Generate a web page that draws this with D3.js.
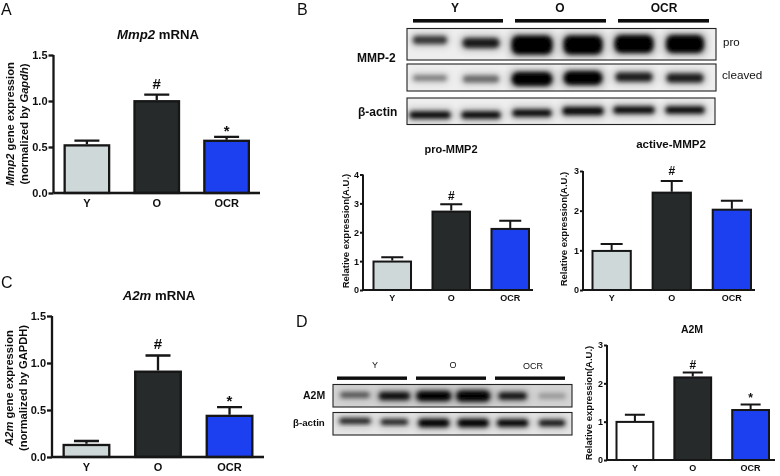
<!DOCTYPE html>
<html><head><meta charset="utf-8">
<script src="https://cdnjs.cloudflare.com/ajax/libs/d3/7.8.5/d3.min.js"></script>
<style>html,body{margin:0;padding:0;background:#fff}svg{display:block}
text{font-family:"Liberation Sans",Arial,sans-serif;fill:#111}</style></head><body>
<svg id="c" width="780" height="476"></svg>
<script>
const groups = ["Y","O","OCR"];
const colors = ["#cfd8d8","#25292b","#1f3ff0"];
const colorsD = ["#ffffff","#25292b","#1f3ff0"];

const mmp2Mean = [0.53,1.01,0.58], mmp2Upper = [0.57,1.07,0.61];
const proMean = [1.02,2.75,2.15], proUpper = [1.13,2.97,2.4];
const activeMean = [1.01,2.48,2.05], activeUpper = [1.16,2.75,2.25];
const a2mMean = [0.14,0.92,0.45], a2mUpper = [0.17,1.08,0.53];
const a2mBlotMean = [1.02,2.18,1.33], a2mBlotUpper = [1.18,2.28,1.45];

const ticks15 = [0,0.5,1,1.5], ticks4 = [0,1,2,3,4], ticks3 = [0,1,2,3];

// Western blots: one value per lane
const proBand   = {op:[.72,.85,1,1,1,1], w:[34,37,41,39,39,38], h:[8,10,19,19,18,18], y:[40,43,45,45,44,44]};
const cleavedBand={op:[.4,.5,1,1,.85,.85], w:[34,36,41,39,37,37], h:[6,7,14,14,9,9], y:[78,79,79,78,77,78]};
const actinBand = {op:[.95,.95,.95,.95,.95,.95], w:[41,39,39,41,41,39], h:[7,7,7,8,7,7], y:[115,115,113,111,110,110]};
const a2mBand   = {op:[.6,.9,.98,.98,.9,.25], w:[29,31,35,34,28,27], h:[5,8,10,11,7,5], y:[395,396,396,396,396,396]};
const actin2Band= {op:[.9,.9,.98,.98,.98,.9], w:[31,27,31,31,31,26], h:[5,5,8,8,7,6], y:[421,422,423,423,423,423]};

const svg = d3.select("#c");
const defs = svg.append("defs");
defs.append("filter").attr("id","soft").attr("x","-5%").attr("y","-5%").attr("width","110%").attr("height","110%")
  .append("feGaussianBlur").attr("stdDeviation",0.35);
defs.append("filter").attr("id","band").attr("x","-30%").attr("y","-60%").attr("width","160%").attr("height","220%")
  .append("feGaussianBlur").attr("stdDeviation",1.9);
defs.append("filter").attr("id","halo").attr("x","-30%").attr("y","-100%").attr("width","160%").attr("height","300%")
  .append("feGaussianBlur").attr("stdDeviation",3.5);
const root = svg.append("g").attr("filter","url(#soft)");

function barPanel(o){
  const g = root.append("g");
  const x = d3.scaleBand().domain(groups).range([o.bar0,o.bar1]).paddingInner(o.gap).paddingOuter(0);
  const y = d3.scaleLinear().domain(o.domain).range([o.y0,o.yTop]);
  const sw = o.sw;
  g.selectAll(".e").data(groups).join("path")
    .attr("d",(d,i)=>{const c=x(d)+x.bandwidth()/2,u=y(o.upper[i]),m=y(o.mean[i]);
      return `M${c},${m}V${u}M${c-o.cap},${u}H${c+o.cap}`;})
    .attr("fill","none").attr("stroke","#141414").attr("stroke-width",sw);
  g.selectAll(".b").data(groups).join("rect")
    .attr("x",d=>x(d)+sw/2).attr("width",x.bandwidth()-sw)
    .attr("y",(d,i)=>y(o.mean[i])+sw/2).attr("height",(d,i)=>o.y0-y(o.mean[i])-sw/2)
    .attr("fill",(d,i)=>o.colors[i]).attr("stroke","#141414").attr("stroke-width",sw);
  const ay = g.append("g").attr("transform",`translate(${o.ax},0)`)
    .call(d3.axisLeft(y).tickValues(o.ticks).tickSize(o.tick).tickPadding(1).tickFormat(o.fmt));
  const ax = g.append("g").attr("transform",`translate(0,${o.y0})`)
    .call(d3.axisBottom(x).tickSize(0).tickPadding(o.xPad));
  ax.select(".domain").attr("d",`M${o.ax},0H${o.axEnd}`);
  ay.select(".domain").attr("d",`M0,${o.yTop}V${o.y0}`);
  [ax,ay].forEach(a=>{a.selectAll("path,line").attr("stroke","#141414").attr("stroke-width",sw);
    a.selectAll("text").attr("font-size",o.fs).attr("font-weight","bold").attr("font-family","Liberation Sans").attr("fill","#111");});
  (o.marks||[]).forEach(m=>{
    const i=groups.indexOf(m[0]);
    g.append("text").attr("x",x(m[0])+x.bandwidth()/2).attr("y",y(o.upper[i])-m[2])
     .attr("text-anchor","middle").attr("font-weight","bold").attr("font-size",o.markFs).text(m[1]);
  });
  const t=g.append("text").attr("x",o.tx).attr("y",o.ty).attr("text-anchor","middle")
    .attr("font-size",o.tfs).attr("font-weight","bold");
  o.title.forEach(s=>t.append("tspan").attr("font-style",s[1]?"italic":"normal").text(s[0]));
  o.yl.forEach(l=>{
    const tx=g.append("text").attr("transform",`translate(${l.x},${l.y}) rotate(-90)`)
      .attr("text-anchor","middle").attr("font-size",o.yfs).attr("font-weight","bold");
    l.parts.forEach(s=>tx.append("tspan").attr("font-style",s[1]?"italic":"normal").text(s[0]));
  });
}
const f1=d3.format(".1f"), f0=d3.format("d");
barPanel({mean:mmp2Mean,upper:mmp2Upper,domain:[0,1.5],ticks:ticks15,fmt:f1,colors,
  bar0:63.5,bar1:250,gap:.33,y0:193,yTop:55,ax:53.5,axEnd:260,tick:5,sw:2.3,cap:12.5,xPad:6,fs:11,markFs:15,tfs:13.2,yfs:11.2,
  marks:[["O","#",6],["OCR","*",1]],tx:158,ty:39,title:[["Mmp2",1],[" mRNA",0]],
  yl:[{x:14,y:124,parts:[["Mmp2",1],[" gene expression",0]]},{x:28,y:124,parts:[["(normalized by ",0],["Gapdh",1],[")",0]]}]});
barPanel({mean:a2mMean,upper:a2mUpper,domain:[0,1.5],ticks:ticks15,fmt:f1,colors,
  bar0:62.5,bar1:253.5,gap:.33,y0:457,yTop:316,ax:52,axEnd:264,tick:5,sw:2.3,cap:12.5,xPad:6,fs:11,markFs:15,tfs:13.2,yfs:11.2,
  marks:[["O","#",6],["OCR","*",1]],tx:159,ty:300,title:[["A2m",1],[" mRNA",0]],
  yl:[{x:13,y:388,parts:[["A2m",1],[" gene expression",0]]},{x:27,y:388,parts:[["(normalized by GAPDH)",0]]}]});
barPanel({mean:proMean,upper:proUpper,domain:[0,4],ticks:ticks4,fmt:f0,colors,
  bar0:372.5,bar1:530,gap:.33,y0:290,yTop:174.5,ax:363,axEnd:533,tick:3,sw:2,cap:11,xPad:5,fs:9,markFs:12,tfs:11,yfs:9.5,
  marks:[["O","#",4]],tx:451,ty:153,title:[["pro-MMP2",0]],
  yl:[{x:349,y:231,parts:[["Relative expression(A.U.)",0]]}]});
barPanel({mean:activeMean,upper:activeUpper,domain:[0,3],ticks:ticks3,fmt:f0,colors,
  bar0:591.5,bar1:752,gap:.33,y0:290,yTop:171,ax:583,axEnd:755,tick:3,sw:2,cap:11,xPad:5,fs:9,markFs:12,tfs:11.5,yfs:9.5,
  marks:[["O","#",6]],tx:671,ty:148,title:[["active-MMP2",0]],
  yl:[{x:567,y:229,parts:[["Relative expression(A.U.)",0]]}]});
barPanel({mean:a2mBlotMean,upper:a2mBlotUpper,domain:[0,3],ticks:ticks3,fmt:f0,colors:colorsD,
  bar0:615.5,bar1:770,gap:.33,y0:460,yTop:345,ax:607,axEnd:775,tick:3,sw:2,cap:10,xPad:5,fs:9,markFs:12,tfs:10.5,yfs:9.5,
  marks:[["O","#",4],["OCR","*",2]],tx:692,ty:333,title:[["A2M",0]],
  yl:[{x:592,y:403,parts:[["Relative expression(A.U.)",0]]}]});

function blot(o){
  const g=root.append("g");
  const clipId="cl"+Math.round(o.y0);
  defs.append("clipPath").attr("id",clipId).append("rect").attr("x",o.x0).attr("y",o.y0).attr("width",o.x1-o.x0).attr("height",o.y1-o.y0);
  const lanes=d3.scalePoint().domain(d3.range(6)).range(o.lane);
  g.append("rect").attr("x",o.x0).attr("y",o.y0).attr("width",o.x1-o.x0).attr("height",o.y1-o.y0).attr("fill",o.bg||"#eeeeee");
  const inner=g.append("g").attr("clip-path",`url(#${clipId})`);
  d3.range(6).forEach(i=>{
    const w=o.b.w[i],h=o.b.h[i],c=lanes(i),cy=o.b.y[i],op=o.b.op[i];
    inner.append("rect").attr("x",c-w/2-3).attr("y",cy-h/2-3).attr("width",w+6).attr("height",h+6).attr("rx",6)
      .attr("fill","#000").attr("opacity",op*.25).attr("filter","url(#halo)");
    inner.append("rect").attr("x",c-w/2).attr("y",cy-h/2).attr("width",w).attr("height",h).attr("rx",Math.min(h/2,7))
      .attr("fill","#050505").attr("opacity",op).attr("filter","url(#band)");
  });
  g.append("rect").attr("x",o.x0).attr("y",o.y0).attr("width",o.x1-o.x0).attr("height",o.y1-o.y0)
    .attr("fill","none").attr("stroke","#222").attr("stroke-width",1.1);
}
const laneB=[430,685], laneD=[355,552];
blot({x0:407,x1:716,y0:28.5,y1:60,lane:laneB,b:proBand});
blot({x0:407,x1:716,y0:64,y1:91,lane:laneB,b:cleavedBand});
blot({x0:407,x1:715,y0:98,y1:124.5,lane:laneB,b:actinBand});
blot({x0:333,x1:572,y0:384.5,y1:407,lane:laneD,b:a2mBand,bg:"#d4d4d4"});
blot({x0:333,x1:572,y0:412.5,y1:435,lane:laneD,b:actin2Band,bg:"#e6e6e6"});

const headB=[[413,503],[515,606],[618,709]], headD=[[337,407],[416,486],[495,565]];
const hdr=(arr,y,h)=>root.append("g").selectAll("rect").data(arr).join("rect")
  .attr("x",d=>d[0]).attr("width",d=>d[1]-d[0]).attr("y",y).attr("height",h).attr("fill","#0c0c0c");
hdr(headB,19,3.6); hdr(headD,376.5,3.4);

function label(x,y,s,fs,bold,anchor){
  return root.append("text").attr("x",x).attr("y",y).attr("font-size",fs)
    .attr("font-weight",bold?"bold":"normal").attr("text-anchor",anchor||"start").text(s);
}
label(455,12,"Y",12,true,"middle");label(560,12,"O",12,true,"middle");label(664,12,"OCR",12,true,"middle");
label(357,62,"MMP-2",12,true);label(358,116,"β-actin",12,true);
label(723,46,"pro",11.5,false);label(722,79,"cleaved",11.7,false);
label(375,368,"Y",9,false,"middle");label(453,368,"O",9,false,"middle");label(533,369,"OCR",9,false,"middle");
label(303,398.5,"A2M",10.5,true);label(293,425.5,"β-actin",9.7,true);
[["A",1,15],["B",297,15],["C",1,288],["D",296,327]].forEach(d=>label(d[1],d[2],d[0],16,false));
</script></body></html>
